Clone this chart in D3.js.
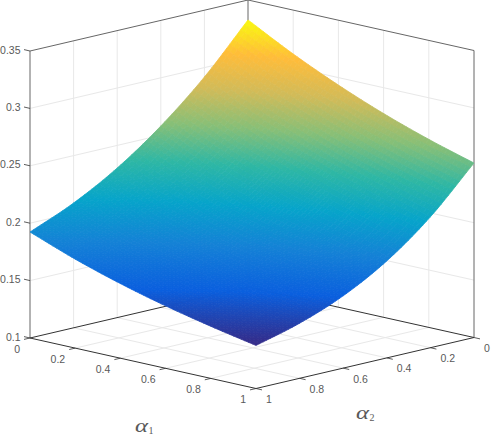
<!DOCTYPE html>
<html><head><meta charset="utf-8">
<script src="https://cdn.jsdelivr.net/npm/d3@7/dist/d3.min.js"></script>
<style>html,body{margin:0;padding:0;background:#fff}svg{display:block}text{font-family:"Liberation Sans",Arial,sans-serif;font-size:10.5px;fill:#595959}.m{font-family:"Liberation Serif",serif;fill:#5a5a5a}</style>
</head><body><svg id="c" width="491" height="436"></svg>
<script>
const alpha1Ticks=[0,0.2,0.4,0.6,0.8,1];
const alpha2Ticks=[0,0.2,0.4,0.6,0.8,1];
const zTicks=[0.1,0.15,0.2,0.25,0.3,0.35];
const alpha1Labels=["0","0.2","0.4","0.6","0.8","1"];
const alpha2Labels=["0","0.2","0.4","0.6","0.8","1"];
const zLabels=["0.1","0.15","0.2","0.25","0.3","0.35"];
const zRow0=[0.3326,0.2918,0.2580,0.2303,0.2087,0.1923];
const zRow1=[0.3118,0.2716,0.2387,0.2126,0.1925,0.1775];
const zRow2=[0.2935,0.2541,0.2222,0.1974,0.1787,0.1650];
const zRow3=[0.2775,0.2386,0.2077,0.1842,0.1670,0.1544];
const zRow4=[0.2638,0.2254,0.1950,0.1730,0.1569,0.1454];
const zRow5=[0.2520,0.2140,0.1845,0.1630,0.1480,0.1375];
const zGrid=[zRow0,zRow1,zRow2,zRow3,zRow4,zRow5];
const parula=["#352a87","#0a5fde","#1481d6","#06a4ca","#2eb7a4","#87bf77","#d1bb59","#ffbc3a","#f9fb0e"];

const a1X=d3.scaleLinear([0,1],[0,226]), a1Y=d3.scaleLinear([0,1],[0,50.5]);
const a2X=d3.scaleLinear([0,1],[0,-218]), a2Y=d3.scaleLinear([0,1],[0,51]);
const zY=d3.scaleLinear([0.1,0.35],[0,-287]);
const P=(a,b,z)=>[248+a1X(a)+a2X(b), 287+a1Y(a)+a2Y(b)+zY(z)];
const color=d3.scaleLinear().domain(parula.map((_,i)=>0.1375+(0.3326-0.1375)*i/(parula.length-1))).range(parula).interpolate(d3.interpolateRgb).clamp(true);

const svg=d3.select("#c");
const line=d3.line();
const seg=(g,p,q,s,w)=>g.append("path").attr("d",line([p,q])).attr("fill","none").attr("stroke",s).attr("stroke-width",w);

const GRID="#e8e8e8", BOX="#666", AX="#333";
const grid=svg.append("g");
alpha1Ticks.slice(1,-1).forEach(t=>{
  seg(grid,P(t,0,0.1),P(t,1,0.1),GRID,1);
  seg(grid,P(t,0,0.1),P(t,0,0.35),GRID,1);
});
alpha2Ticks.slice(1,-1).forEach(t=>{
  seg(grid,P(0,t,0.1),P(1,t,0.1),GRID,1);
  seg(grid,P(0,t,0.1),P(0,t,0.35),GRID,1);
});
zTicks.slice(1,-1).forEach(t=>{
  seg(grid,P(0,1,t),P(0,0,t),GRID,1);
  seg(grid,P(0,0,t),P(1,0,t),GRID,1);
});
const box=svg.append("g");
seg(box,P(0,1,0.1),P(0,1,0.35),BOX,1);
seg(box,P(1,0,0.1),P(1,0,0.35),BOX,1);
seg(box,P(0,0,0.1),P(0,0,0.35),BOX,1);
seg(box,P(0,1,0.35),P(0,0,0.35),BOX,1);
seg(box,P(0,0,0.35),P(1,0,0.35),BOX,1);
seg(box,P(0,1,0.1),P(0,0,0.1),AX,1);
seg(box,P(0,0,0.1),P(1,0,0.1),AX,1);

/* smooth rendering of the read grid: Catmull-Rom through the rows and columns */
const cr=(v,t)=>{
  const n=v.length-1, i=Math.min(n-1,Math.floor(t*n)), u=t*n-i;
  const p0=i>0?v[i-1]:2*v[0]-v[1], p1=v[i], p2=v[i+1], p3=i+2<=n?v[i+2]:2*v[n]-v[n-1];
  return 0.5*(2*p1+(p2-p0)*u+(2*p0-5*p1+4*p2-p3)*u*u+(3*p1-p0-3*p2+p3)*u*u*u);
};
const zAt=(a,b)=>cr(zGrid.map(r=>cr(r,b)),a);
const N=60, surf=svg.append("g");
for(let i=0;i<N;i++)for(let j=0;j<N;j++){
  const a0=i/N,a1=(i+1)/N,b0=j/N,b1=(j+1)/N;
  const zs=[zAt(a0,b0),zAt(a1,b0),zAt(a1,b1),zAt(a0,b1)];
  const c=color(d3.mean(zs));
  surf.append("path").attr("d",line([P(a0,b0,zs[0]),P(a1,b0,zs[1]),P(a1,b1,zs[2]),P(a0,b1,zs[3])])+"Z")
    .attr("fill",c).attr("stroke",c).attr("stroke-width",0.8);
}

const ax=svg.append("g");
seg(ax,P(0,1,0.1),P(1,1,0.1),AX,1);
seg(ax,P(1,0,0.1),P(1,1,0.1),AX,1);
alpha1Ticks.forEach((t,i)=>{
  const p=P(t,1,0.1);
  seg(ax,p,[p[0]-6,p[1]+1.4],AX,0.8);
  ax.append("text").attr("x",p[0]-10).attr("y",p[1]+14.5).attr("text-anchor","end").text(alpha1Labels[i]);
});
alpha2Ticks.forEach((t,i)=>{
  const p=P(1,t,0.1);
  seg(ax,p,[p[0]+6,p[1]+1.4],AX,0.8);
  ax.append("text").attr("x",p[0]+10).attr("y",p[1]+14.5).attr("text-anchor","start").text(alpha2Labels[i]);
});
zTicks.forEach((t,i)=>{
  const p=P(0,1,t);
  seg(ax,p,[p[0]-6,p[1]-1.4],AX,0.8);
  ax.append("text").attr("x",p[0]-9.5).attr("y",p[1]+2.5).attr("text-anchor","end").text(zLabels[i]);
});
const lab=(x,y,s)=>{
  svg.append("text").attr("class","m").attr("transform",`translate(${x},${y}) scale(1.3,1)`).style("font-size","19px").style("font-style","italic").text("α");
  svg.append("text").attr("class","m").attr("x",x+13.5).attr("y",y+2).style("font-size","10px").text(s);
};
lab(135,431.5,"1");
lab(356,419,"2");
</script></body></html>
